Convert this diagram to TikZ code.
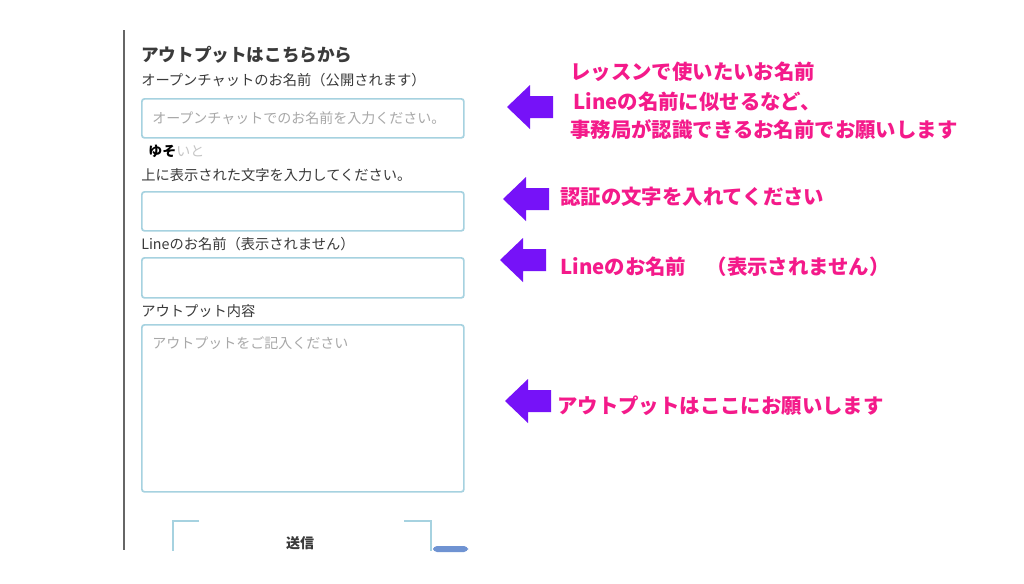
\documentclass[tikz,border=0pt]{standalone}
\usepackage{fontspec}
\setmainfont{Noto Sans CJK JP}
\usetikzlibrary{positioning}
\definecolor{fieldblue}{HTML}{A6D2E0}
\definecolor{btnblue}{HTML}{6F93D2}
\definecolor{arrowpurple}{HTML}{7612F8}
\definecolor{notepink}{HTML}{F41A8A}
\definecolor{labelgray}{HTML}{3A3A3A}
\definecolor{hintgray}{HTML}{A8A8A8}
\tikzset{
  pics/larrow/.style={code={
    \fill[arrowpurple] (0,0) -- (23,-22) -- (23,-11) -- (46,-11) -- (46,11) -- (23,11) -- (23,22) -- cycle;}},
}
\begin{document}
\begin{tikzpicture}[x=0.75pt,y=-0.75pt,
    field/.style={draw=fieldblue,line width=1.3pt,rounded corners=2pt,minimum width=241.5pt,anchor=north west,inner sep=0pt},
    formlabel/.style={anchor=west,inner sep=0pt,text=labelgray,font=\fontsize{10.7}{12}\selectfont},
    hint/.style={anchor=west,inner sep=0pt,text=hintgray,font=\fontsize{10.5}{12}\selectfont},
    note/.style={anchor=west,inner sep=0pt,text=notepink,font=\fontsize{15.3}{18}\selectfont\bfseries}]
  \useasboundingbox[fill=white] (0,0) rectangle (1024,583);
  % left margin of the form
  \draw[gray!80!black,line width=1.4pt] (124,30) -- (124,550);
  % form
  \node[anchor=west,inner sep=0pt,text=labelgray,font=\fontsize{13.2}{15}\selectfont\bfseries] (title) at (141,55) {アウトプットはこちらから};
  \node[formlabel] (lab1) at (141,80) {オープンチャットのお名前（公開されます）};
  \node[field,minimum height=29.25pt] (box1) at (141,98) {};
  \node[hint] (hint1) at (152,118) {オープンチャットでのお名前を入力ください。};
  \node[anchor=west,inner sep=0pt,font=\fontsize{10.5}{12}\selectfont] (captcha) at (148,151) {\textbf{ゆそ}\textcolor{gray!45}{いと}};
  \node[formlabel] (lab2) at (141,175) {上に表示された文字を入力してください。};
  \node[field,minimum height=29.25pt] (box2) at (141,191) {};
  \node[formlabel] (lab3) at (141,244) {Lineのお名前（表示されません）};
  \node[field,minimum height=30pt] (box3) at (141,257) {};
  \node[formlabel] (lab4) at (141,311) {アウトプット内容};
  \node[field,minimum height=125.25pt] (box4) at (141,324) {};
  \node[hint] (hint4) at (152,343) {アウトプットをご記入ください};
  % send button (cut off at the bottom)
  \draw[fieldblue,line width=2pt] (199,521) -| (173,551);
  \draw[fieldblue,line width=2pt] (404,521) -| (431,551);
  \node[inner sep=0pt,text=labelgray,font=\fontsize{10.5}{12}\selectfont\bfseries] (send) at (300,543) {送信};
  \fill[btnblue,rounded corners=3pt] (433,552) -- (433,546) -- (468,546) -- (468,552) -- cycle;
  % arrows and notes
  \pic at (507,107) {larrow};
  \pic at (503,199) {larrow};
  \pic at (500,260) {larrow};
  \pic at (505,401) {larrow};
  \node[note] (note1a) at (570,72) {レッスンで使いたいお名前};
  \node[note] (note1b) at (573,102) {Lineの名前に似せるなど、};
  \node[note] (note1c) at (570,130) {事務局が認識できるお名前でお願いします};
  \node[note] (note2) at (560,197) {認証の文字を入れてください};
  \node[note] (note3) at (560,267) {Lineのお名前　（表示されません）};
  \node[note] (note4) at (557,406) {アウトプットはここにお願いします};
\end{tikzpicture}
\end{document}
